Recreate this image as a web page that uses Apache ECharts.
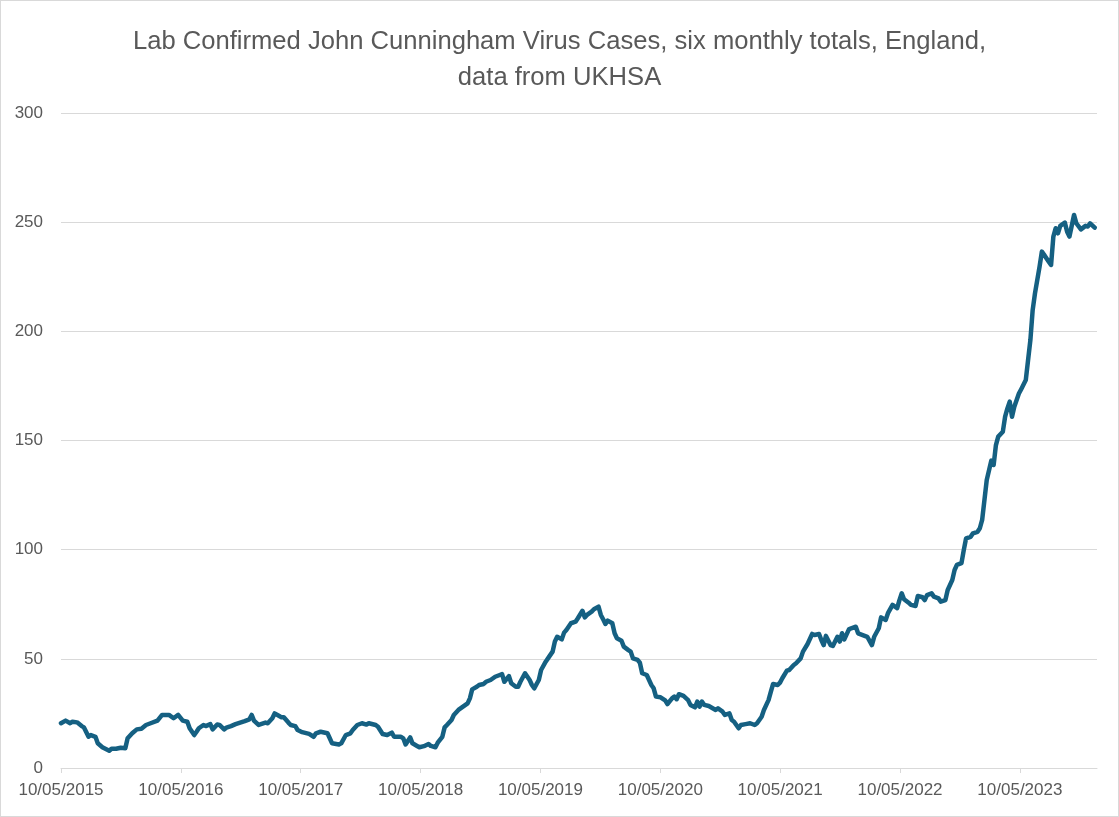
<!DOCTYPE html>
<html>
<head>
<meta charset="utf-8">
<title>JC Virus cases</title>
<script src="https://cdn.jsdelivr.net/npm/echarts@6/dist/echarts.min.js"></script>
<style>
  html, body { margin: 0; padding: 0; background: #fff; }
  #chart { width: 1119px; height: 817px; box-sizing: border-box; border: 1px solid #d9d9d9; }
</style>
</head>
<body>
<div id="chart"></div>
<script>
// weeks after 10/05/2015
var weeks = [
  0, 2, 4, 5, 7, 9, 10, 12, 13, 15, 16, 18, 21, 22, 24, 26, 28, 29, 31, 33, 35, 37, 39, 42, 44, 47, 49, 51,
  53, 55, 56, 58, 59, 60, 62, 63, 65, 66, 68, 69, 71, 72, 74, 76, 78, 80, 82, 83, 84, 86, 87, 89, 90, 92, 93, 95, 96, 97, 99, 100, 102, 103,
  105, 108, 110, 111, 113, 116, 117, 118, 121, 122, 124, 126, 127, 129, 131, 133, 134, 137, 138, 140, 142, 144, 145, 148, 149, 150, 152, 153, 155, 156,
  158, 160, 161, 163, 164, 166, 167, 168, 170, 171, 173, 175, 177, 178, 179, 181, 182, 184, 185, 187, 189, 191, 192, 193, 195, 196, 198, 199, 200, 202, 204, 205, 206,
  208, 209, 211, 212, 214, 215, 216, 218, 219, 220, 222, 224, 225, 227, 228, 229, 231, 232, 234, 235, 236, 237, 238, 240, 241, 242, 244, 245, 247, 248, 249, 251, 252, 253, 255, 257, 258, 259,
  261, 263, 264, 266, 267, 268, 269, 271, 273, 274, 276, 277, 278, 279, 280, 282, 285, 286, 288, 289, 291, 292, 293, 295, 296, 298, 300, 302, 303, 305, 306, 308, 309, 310,
  312, 313, 314, 316, 317, 319, 320, 322, 323, 325, 327, 328, 330, 331, 332, 333, 335, 336, 338, 339, 340, 341, 343, 344, 346, 347, 349, 351, 353, 354, 356, 357, 359, 360, 362, 364,
  365, 366, 367, 369, 370, 372, 373, 375, 376, 377, 379, 380, 382, 383, 385, 386, 388, 389, 390, 392, 393, 394, 396, 397, 399, 400, 401, 402, 403, 405, 406, 407, 408, 410, 411, 412, 413, 414, 415,
  417, 418, 420, 421, 422, 423, 424, 426, 427, 428, 430, 431, 432, 433, 434, 435, 437, 438, 439, 441, 442, 444, 446, 447, 448, 450
];

// six monthly totals
var cases = [
  20.5, 21.7, 20.5, 21.2, 20.9, 19.2, 18.6, 14.3, 15.1, 14.3, 11.3, 9.5, 7.9, 8.8, 8.8, 9.3, 9.0, 13.6, 15.9, 17.7, 18.0, 19.7, 20.5, 21.7, 24.3, 24.3, 22.8, 24.3,
  21.7, 21.2, 18.2, 15.1, 16.6, 18.2, 19.7, 19.2, 20.1, 17.7, 19.9, 19.7, 17.7, 18.5, 19.2, 20.1, 20.8, 21.5, 22.3, 24.3, 21.7, 19.7, 20.1, 20.8, 20.5, 22.8, 25.0, 23.8, 23.2, 23.2, 20.8, 19.7, 19.2, 17.4,
  16.4, 15.6, 14.3, 15.9, 16.6, 15.9, 13.6, 11.3, 10.8, 11.3, 15.1, 15.9, 17.4, 19.7, 20.5, 19.9, 20.5, 19.7, 18.9, 15.6, 15.1, 16.2, 14.3, 14.3, 13.6, 10.8, 14.0, 11.3, 10.1, 9.5,
  10.0, 11.0, 10.1, 9.5, 11.6, 14.3, 18.6, 19.7, 22.0, 24.3, 26.6, 28.1, 29.6, 31.9, 36.0, 37.2, 38.0, 38.5, 39.5, 40.3, 41.8, 42.6, 43.0, 39.5, 42.1, 38.8, 37.2, 37.2, 39.5, 43.4, 40.3, 38.0, 36.5,
  40.3, 44.9, 48.7, 50.2, 53.3, 57.9, 60.1, 58.9, 62.0, 63.2, 66.3, 67.0, 68.6, 72.0, 69.0, 70.1, 71.6, 72.7, 73.9, 70.1, 68.1, 66.0, 67.5, 66.3, 61.7, 59.4, 58.3, 55.6, 54.0, 53.3, 50.2, 49.5, 48.2, 43.4, 42.6, 38.0, 36.5, 32.7,
  32.4, 31.0, 29.3, 31.9, 32.7, 31.5, 33.8, 33.0, 31.1, 28.9, 27.8, 30.4, 28.1, 30.4, 28.9, 28.4, 26.6, 27.3, 25.8, 24.3, 25.0, 22.0, 21.2, 18.2, 19.7, 20.1, 20.5, 19.7, 20.5, 23.5, 26.6, 31.1, 34.9, 38.5,
  38.0, 39.1, 41.1, 44.6, 44.9, 47.2, 48.0, 50.2, 53.3, 56.8, 61.4, 60.9, 61.4, 58.6, 56.3, 60.5, 56.3, 55.9, 60.1, 57.9, 61.7, 58.9, 63.5, 64.0, 64.7, 61.7, 60.9, 60.1, 56.3, 60.1, 64.0, 69.0, 67.8, 70.9, 74.7, 73.2,
  76.9, 80.0, 77.3, 75.7, 74.7, 74.2, 78.8, 78.2, 76.9, 79.2, 80.0, 78.5, 77.7, 76.2, 76.9, 81.5, 86.1, 90.7, 93.0, 93.8, 99.8, 105.2, 105.9, 107.5, 108.2, 109.8, 113.6, 122.8, 131.9, 140.8, 138.8, 147.9, 151.8, 154.0, 160.9, 164.7, 167.8, 160.9, 165.5,
  171.5, 173.5, 177.7, 186.9, 196.0, 209.8, 217.4, 229.6, 236.5, 235.0, 231.9, 230.4, 243.4, 247.2, 244.9, 248.3, 249.8, 245.6, 243.4, 253.3, 249.5, 246.7, 248.3, 248.0, 249.5, 247.5
];

var yearLabels = ['10/05/2015', '10/05/2016', '10/05/2017', '10/05/2018', '10/05/2019', '10/05/2020', '10/05/2021', '10/05/2022', '10/05/2023'];

var weeksPerYear = 365.25 / 7;
var yearTicks = yearLabels.map(function (l, i) { return i * weeksPerYear; });

var chart = echarts.init(document.getElementById('chart'));

chart.setOption({
    animation: false,
    textStyle: {
        fontFamily: 'Liberation Sans, Arial, sans-serif'
    },
    title: {
        text: 'Lab Confirmed John Cunningham Virus Cases, six monthly totals, England,\ndata from UKHSA',
        left: 'center',
        top: 18,
        textStyle: {
            fontFamily: 'Liberation Sans, Arial, sans-serif',
            fontWeight: 'normal',
            fontSize: 25.6,
            lineHeight: 36,
            color: '#595959'
        }
    },
    grid: {
        left: 60,
        right: 21,
        top: 112,
        bottom: 48,
        containLabel: false
    },
    xAxis: {
        type: 'value',
        min: 0,
        max: 451,
        axisLine: {
            lineStyle: { color: '#d9d9d9', width: 1 }
        },
        axisTick: {
            show: true,
            length: 5,
            customValues: yearTicks,
            lineStyle: { color: '#d9d9d9' }
        },
        axisLabel: {
            customValues: yearTicks,
            color: '#595959',
            fontSize: 17,
            margin: 14,
            formatter: function (v) {
                return yearLabels[Math.round(v / weeksPerYear)] || '';
            }
        },
        splitLine: { show: false }
    },
    yAxis: {
        type: 'value',
        min: 0,
        max: 300,
        interval: 50,
        axisLine: { show: false },
        axisTick: { show: false },
        axisLabel: {
            color: '#595959',
            fontSize: 17,
            margin: 18
        },
        splitLine: {
            lineStyle: { color: '#d9d9d9', width: 1 }
        }
    },
    series: [{
        type: 'line',
        data: weeks.map(function (w, i) { return [w, cases[i]]; }),
        showSymbol: false,
        lineStyle: {
            color: '#156082',
            width: 4.5,
            cap: 'round',
            join: 'round'
        },
        itemStyle: { color: '#156082' }
    }]
});
</script>
</body>
</html>
